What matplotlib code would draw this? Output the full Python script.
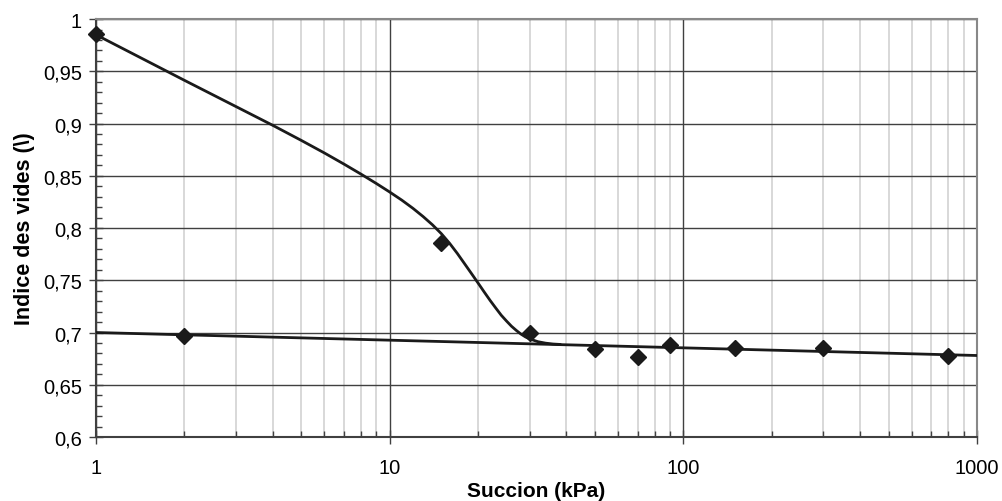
import numpy as np
import matplotlib
matplotlib.use('Agg')
import matplotlib.pyplot as plt
from matplotlib.ticker import FuncFormatter, LogLocator, NullFormatter, MultipleLocator

plt.rcParams['font.family'] = ['Liberation Sans', 'DejaVu Sans']

# measured points
succion = [1, 2, 15, 30, 50, 70, 90, 150, 300, 800]
indice = [0.986, 0.697, 0.786, 0.700, 0.684, 0.677, 0.688, 0.685, 0.685, 0.678]

# upper fitted curve
curve_s = [1, 1.5, 2, 3, 4, 5, 6, 7, 8, 9, 10, 11, 12, 13, 14, 15, 16, 17, 18, 19,
           20, 21, 22, 23, 24, 25, 26, 27, 28, 29, 30, 32, 34, 36, 38]
curve_e = [0.985, 0.9595, 0.9414, 0.9162, 0.8983, 0.8839, 0.8718, 0.8611, 0.8515,
           0.8427, 0.8345, 0.8267, 0.8189, 0.8110, 0.8030, 0.7946, 0.7854, 0.7757,
           0.7658, 0.7564, 0.7474, 0.7387, 0.7306, 0.7233, 0.7165, 0.711, 0.706,
           0.702, 0.6985, 0.6958, 0.6938, 0.6912, 0.6898, 0.6890, 0.6886]

# lower straight line
line_s = [1, 1000]
line_e = [0.700, 0.678]

dark = '#1a1a1a'

fig = plt.figure(figsize=(10.02, 5.02), dpi=100)
ax = fig.add_axes([0.0958, 0.1275, 0.8792, 0.8325])

ax.set_xscale('log')
ax.set_xlim(1, 1000)
ax.set_ylim(0.6, 1.0)

# grid
ax.xaxis.set_minor_locator(LogLocator(base=10, subs=np.arange(2, 10)))
ax.xaxis.set_minor_formatter(NullFormatter())
ax.yaxis.set_major_locator(MultipleLocator(0.05))
ax.yaxis.set_minor_locator(MultipleLocator(0.01))
ax.grid(which='minor', axis='x', color='#d6d6d6', linewidth=1.3, zorder=0)
ax.grid(which='major', axis='x', color='#404040', linewidth=1.0, zorder=0)
ax.grid(which='major', axis='y', color='#404040', linewidth=1.0, zorder=0)

ax.plot(line_s, line_e, color=dark, linewidth=2.0, zorder=3)
ax.plot(curve_s, curve_e, color=dark, linewidth=2.0, zorder=3)
ax.plot(succion, indice, linestyle='none', marker='D', markersize=8.5,
        color=dark, zorder=4, clip_on=False)

ax.yaxis.set_major_formatter(FuncFormatter(lambda v, p: ('%g' % round(v, 2)).replace('.', ',')))
ax.xaxis.set_major_formatter(FuncFormatter(lambda v, p: '%d' % v))

ax.tick_params(which='major', direction='inout', length=10, width=1, color='#404040',
               labelsize=14.5, pad=5)
ax.tick_params(axis='x', which='major', pad=10)
ax.tick_params(which='minor', direction='in', length=4, width=1, color='#404040')

for side in ['top', 'right']:
    ax.spines[side].set_color('#888888')
    ax.spines[side].set_linewidth(1.5)
for side in ['left', 'bottom']:
    ax.spines[side].set_color('#404040')
    ax.spines[side].set_linewidth(1.5)

ax.set_xlabel('Succion (kPa)', fontsize=15, fontweight='bold', labelpad=3)
ax.set_ylabel('Indice des vides (\\)', fontsize=15.5, fontweight='bold', labelpad=6)

fig.savefig('out.png', dpi=100)
